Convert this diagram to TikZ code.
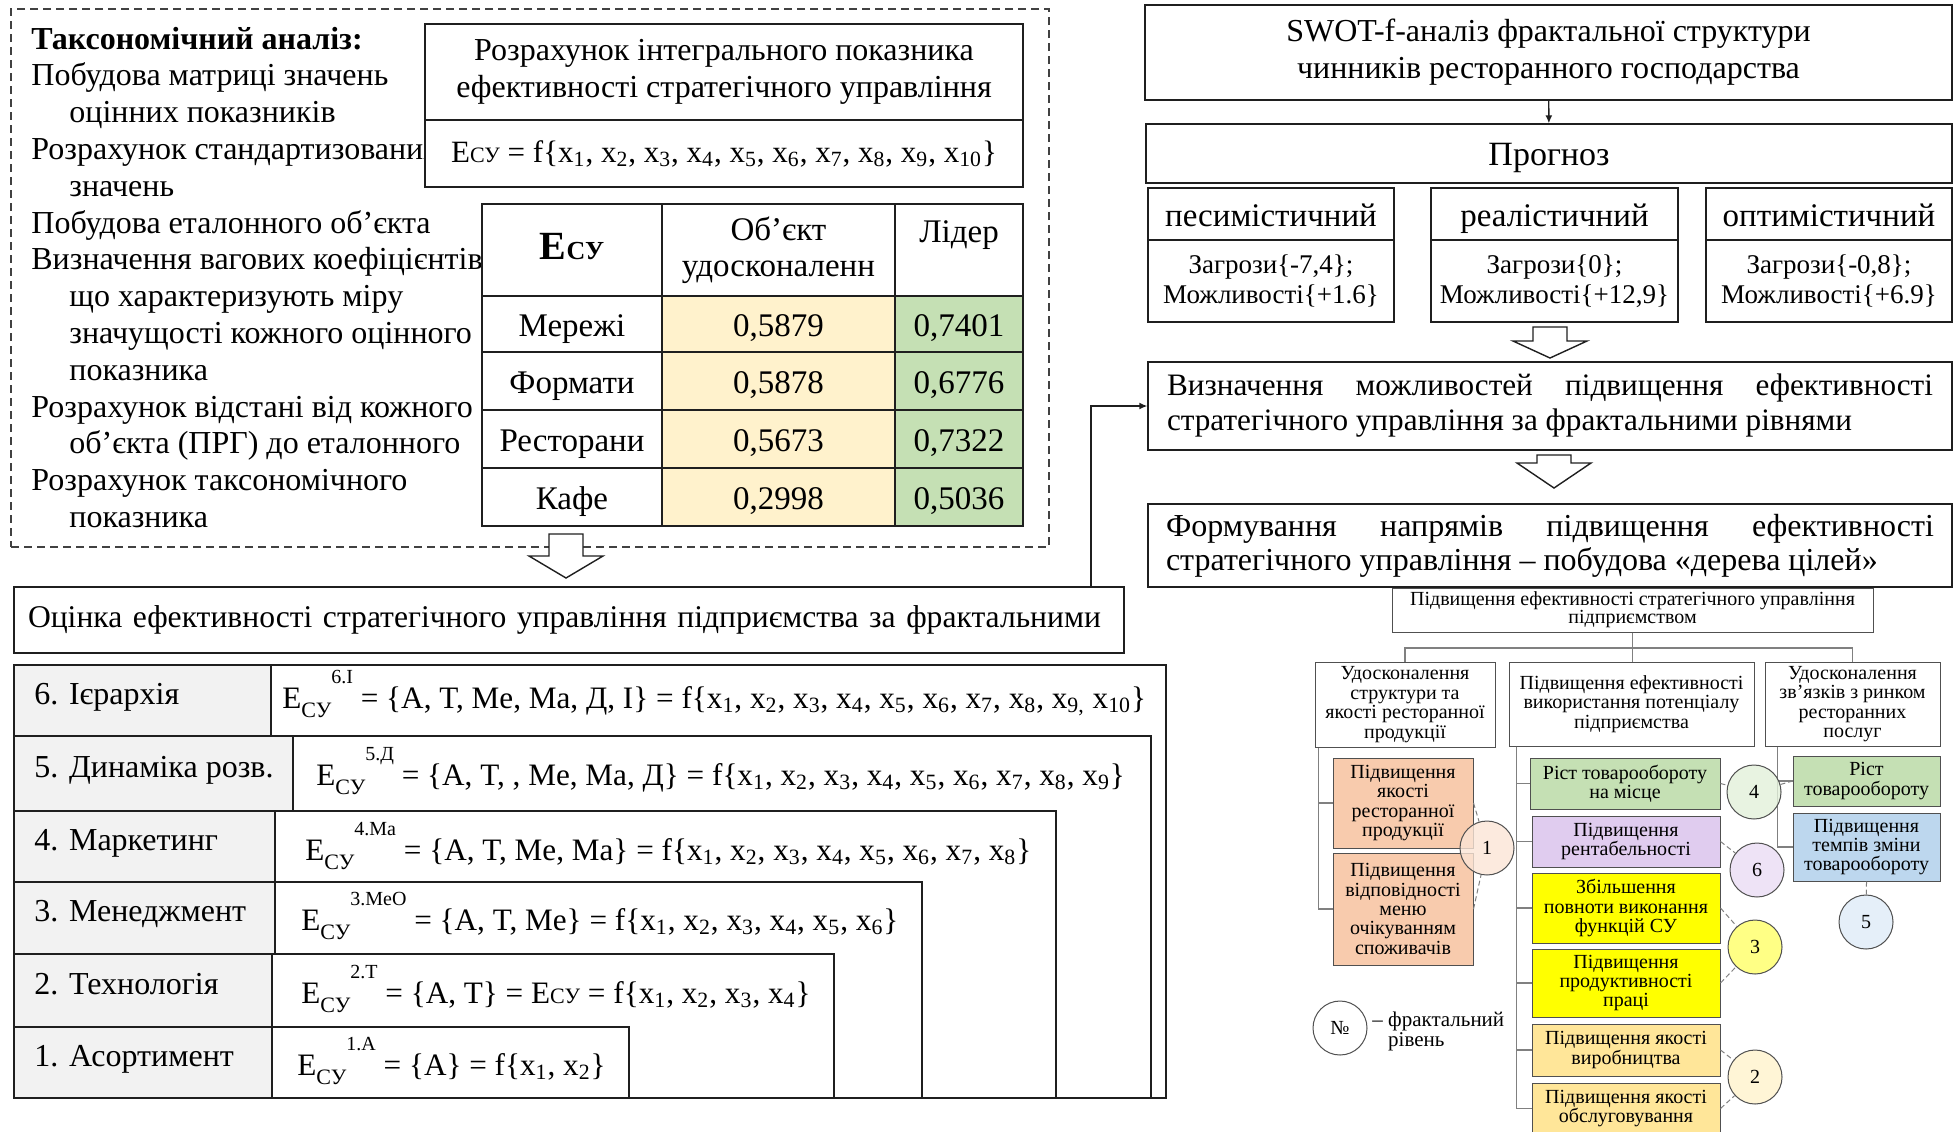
\documentclass[tikz,border=0pt]{standalone}
\usepackage{fontspec}
\setmainfont{Liberation Serif}
\usetikzlibrary{arrows.meta,positioning,fit}
\definecolor{ink}{HTML}{1F1F1F}
\definecolor{treeline}{HTML}{808080}
\definecolor{treeink}{HTML}{505050}
\definecolor{boxgray}{HTML}{F2F2F2}
\definecolor{objfill}{HTML}{FFF2CC}
\definecolor{leadfill}{HTML}{C5E0B4}
\definecolor{orangefill}{HTML}{F8CBAD}
\definecolor{greenfill}{HTML}{C5E0B4}
\definecolor{lilacfill}{HTML}{E0CCEF}
\definecolor{yellowfill}{HTML}{FFFF00}
\definecolor{goldfill}{HTML}{FFE699}
\definecolor{bluefill}{HTML}{BDD7EE}
\definecolor{lvorange}{HTML}{FBE5D6}
\definecolor{lvgreen}{HTML}{E2F0D9}
\definecolor{lvlilac}{HTML}{EADCF4}
\definecolor{lvyellow}{HTML}{FFFF66}
\definecolor{lvgold}{HTML}{FFF2CC}
\definecolor{lvblue}{HTML}{DEEBF7}
\tikzset{span/.style n args={4}{at={({(#1+#3)/2},{(#2+#4)/2})},minimum width={(#3-#1)*0.5pt},minimum height={(#4-#2)*0.5pt}},
 box/.style={draw=ink,line width=0.7pt,fill=white,inner sep=0pt,align=center,font=\fontsize{16}{18.5}\selectfont},
 oneline/.style={text height=15pt,text depth=3pt},
 tcell/.style={box,font=\fontsize{16.5}{18}\selectfont},
 labcell/.style={box,fill=boxgray},
 listline/.style={anchor=west,inner sep=0pt,oneline,font=\fontsize{16}{18}\selectfont},
 dashbox/.style={draw=ink!85,dash pattern=on 4pt off 2.5pt,line width=0.6pt,inner sep=0pt},
 hollow/.style={draw=ink,line width=0.7pt,fill=white,line join=miter},
 arr/.style={-{Latex[length=4pt,width=3.5pt]},line width=0.7pt,draw=ink},
 tbox/.style={draw=treeink,line width=0.5pt,fill=white,inner sep=0pt,align=center,font=\fontsize{10}{9.7}\selectfont},
 leaf/.style={tbox,draw=treeink},
 tline/.style={draw=treeline,line width=0.6pt},
 link/.style={draw=treeline,line width=0.5pt,dash pattern=on 2.5pt off 1.5pt},
 lvl/.style={circle,draw=treeink,line width=0.5pt,minimum size=27pt,inner sep=0pt,fill opacity=0.8,text opacity=1,font=\fontsize{10}{10}\selectfont}}
\newcommand{\xx}[1]{x\textsubscript{#1}}
\newcommand{\Esm}{E{\fontsize{11}{11}\selectfont СУ}}
\newcommand{\Esb}{E\raisebox{-0.3em}{\fontsize{11}{11}\selectfont СУ}}
\newcommand{\Esu}[1]{\Esb\raisebox{0.8em}{\fontsize{10}{10}\selectfont #1}}
\newcommand{\blockdown}[4]{\draw[hollow] (#1-17,#2) -- (#1+17,#2) -- (#1+17,#3) -- (#1+37,#3) -- (#1,#4) -- (#1-37,#3) -- (#1-17,#3) -- cycle;}
\begin{document}
\begin{tikzpicture}[x=0.5pt,y=-0.5pt]
\useasboundingbox (0,0) rectangle (1958,1131);
% taxonomy block
\node[dashbox,fit={(11,9)(1049,547)}] (taxo) {};
\foreach \i/\dx/\t in {0/0/{\bfseries Таксономічний аналіз:},1/0/Побудова матриці значень,2/1/оцінних показників,
 3/0/Розрахунок стандартизованих,4/1/значень,5/0/Побудова еталонного об’єкта,6/0/Визначення вагових коефіцієнтів,
 7/1/що характеризують міру,8/1/значущості кожного оцінного,9/1/показника,10/0/Розрахунок відстані від кожного,
 11/1/об’єкта (ПРГ) до еталонного,12/0/Розрахунок таксономічного,13/1/показника}
 \node[listline] (tx\i) at (31+38*\dx,37+36.8*\i) {\t};
\node[box,font=\fontsize{16}{18.5}\selectfont,span={425}{24}{1023}{120}] (calc) {Розрахунок інтегрального показника\\ефективності стратегічного управління};
\node[box,font=\fontsize{15.5}{18}\selectfont,span={425}{120}{1023}{187}] (calcf) {\Esm{} = f\{\xx1, \xx2, \xx3, \xx4, \xx5, \xx6, \xx7, \xx8, \xx9, \xx{10}\}};
% table
\node[tcell,span={482}{204}{662}{296}] (hE) {\raisebox{4pt}{\bfseries\fontsize{20}{20}\selectfont E\fontsize{13}{13}\selectfont СУ}};
\node[tcell,span={662}{204}{895}{296}] (hO) {Об’єкт\\удосконаленн};
\node[tcell,span={895}{204}{1023}{296}] (hL) {Лідер\\\mbox{}};
\foreach \r/\yt/\yb/\nm/\ov/\lv in {1/296/352/Мережі/{0,5879}/{0,7401},2/352/410/Формати/{0,5878}/{0,6776},
 3/410/468/Ресторани/{0,5673}/{0,7322},4/468/526/Кафе/{0,2998}/{0,5036}}{
 \node[tcell,oneline,span={482}{\yt}{662}{\yb}] (rn\r) {\nm};
 \node[tcell,oneline,fill=objfill,span={662}{\yt}{895}{\yb}] (ro\r) {\ov};
 \node[tcell,oneline,fill=leadfill,span={895}{\yt}{1023}{\yb}] (rl\r) {\lv};
}
\blockdown{566}{534}{556}{578}
\node[box,font=\fontsize{15.8}{18}\selectfont,span={14}{587}{1124}{653},text width=541pt,align=left] (ocinka) {Оцінка ефективності стратегічного управління підприємства за фрактальними};
% fractal levels
\foreach \i/\yt/\yb/\lx/\rx/\ybase/\fx/\lab/\eq in {
 6/665/736/271/1166/708/282/{6. Ієрархія}/{\Esu{6.I} = \{A, T, Me, Ma, Д, I\} = f\{\xx1, \xx2, \xx3, \xx4, \xx5, \xx6, \xx7, \xx8, \xx{9,} \xx{10}\}},
 5/736/811/293/1151/785/316/{5. Динаміка розв.}/{\Esu{5.Д} = \{A, T, , Me, Ma, Д\} = f\{\xx1, \xx2, \xx3, \xx4, \xx5, \xx6, \xx7, \xx8, \xx9\}},
 4/811/882/275/1056/860/305/{4. Маркетинг}/{\Esu{4.Ma} = \{A, T, Me, Ma\} = f\{\xx1, \xx2, \xx3, \xx4, \xx5, \xx6, \xx7, \xx8\}},
 3/882/954/275/922/930/301/{3. Менеджмент}/{\Esu{3.MeO} = \{A, T, Me\} = f\{\xx1, \xx2, \xx3, \xx4, \xx5, \xx6\}},
 2/954/1027/272/834/1003/301/{2. Технологія}/{\Esu{2.T} = \{A, T\} = \Esm{} = f\{\xx1, \xx2, \xx3, \xx4\}},
 1/1027/1098/272/629/1075/297/{1. Асортимент}/{\Esu{1.A} = \{A\} = f\{\xx1, \xx2\}}}{
 \node[box,span={\lx}{\yt}{\rx}{1098}] (fb\i) {};
 \node[labcell,span={14}{\yt}{\lx}{\yb}] (lc\i) {};
 \node[listline] (ln\i) at (34,{(\yt+\yb)/2-8.5}) {\lab};
 \node[anchor=base west,inner sep=0pt,font=\fontsize{15.6}{18}\selectfont] (eq\i) at (\fx,\ybase) {\eq};
}
% SWOT side
\node[box,span={1145}{5}{1952}{100}] (swot) {SWOT-f-аналіз фрактальної структури\\чинників ресторанного господарства};
\node[box,oneline,font=\fontsize{17}{19}\selectfont,span={1146}{124}{1952}{183}] (progn) {Прогноз};
\draw[arr] (swot) -- (progn);
\foreach \n/\xa/\xb/\hd/\bd in {pes/1148/1394/песимістичний/{Загрози\{-7,4\};\\Можливості\{+1.6\}},
 real/1431/1678/реалістичний/{Загрози\{0\};\\Можливості\{+12,9\}},
 opt/1706/1952/оптимістичний/{Загрози\{-0,8\};\\Можливості\{+6.9\}}}{
 \node[box,oneline,font=\fontsize{16.5}{18}\selectfont,span={\xa}{188}{\xb}{240}] (h\n) {\hd};
 \node[box,font=\fontsize{13.5}{15}\selectfont,span={\xa}{240}{\xb}{322}] (b\n) {\bd};
}
\blockdown{1550}{327}{341}{358}
\node[box,span={1148}{362}{1952}{450},text width=383pt,align=justify,font=\fontsize{15.6}{17.5}\selectfont] (vyzn) {Визначення можливостей підвищення ефективності\linebreak стратегічного управління за фрактальними рівнями};
\blockdown{1554}{455}{463}{488}
\node[box,span={1148}{504}{1952}{587},text width=384pt,align=justify,font=\fontsize{16}{17}\selectfont] (form) {Формування напрямів підвищення ефективності\linebreak стратегічного управління – побудова «дерева цілей»};
\coordinate (knee) at (1091,406);
\draw[arr] (ocinka.north -| knee) |- (vyzn.west);
% goal tree
\node[tbox,font=\fontsize{10}{9}\selectfont,span={1392}{588}{1873}{632}] (goal) {Підвищення ефективності стратегічного управління\\підприємством};
\node[tbox,span={1315}{662}{1495}{747}] (dirA) {Удосконалення\\структури та\\якості ресторанної\\продукції};
\node[tbox,span={1509}{662}{1754}{746}] (dirB) {Підвищення ефективності\\використання потенціалу\\підприємства};
\node[tbox,span={1765}{662}{1940}{746}] (dirC) {Удосконалення\\зв’язків з ринком\\ресторанних\\послуг};
\coordinate (bus) at (0,648);
\draw[tline] (goal.south) -- (goal.south |- dirB.north);
\draw[tline] (dirA.north) |- (bus -| dirC.north) -- (dirC.north);
\node[leaf,fill=orangefill,span={1333}{758}{1473}{848}] (q1) {Підвищення\\якості\\ресторанної\\продукції};
\node[leaf,fill=orangefill,span={1333}{853}{1473}{965}] (q2) {Підвищення\\відповідності\\меню\\очікуванням\\споживачів};
\node[leaf,fill=greenfill,span={1530}{758}{1720}{809}] (b1) {Ріст товарообороту\\на місце};
\node[leaf,fill=lilacfill,span={1532}{816}{1720}{867}] (b2) {Підвищення\\рентабельності};
\node[leaf,fill=yellowfill,span={1532}{873}{1720}{943}] (b3) {Збільшення\\повноти виконання\\функцій СУ};
\node[leaf,fill=yellowfill,span={1532}{949}{1720}{1017}] (b4) {Підвищення\\продуктивності\\праці};
\node[leaf,fill=goldfill,span={1532}{1024}{1720}{1076}] (b5) {Підвищення якості\\виробництва};
\node[leaf,fill=goldfill,span={1532}{1083}{1720}{1134}] (b6) {Підвищення якості\\обслуговування};
\node[leaf,fill=greenfill,span={1793}{756}{1940}{806}] (c1) {Ріст\\товарообороту};
\node[leaf,fill=bluefill,span={1793}{813}{1940}{881}] (c2) {Підвищення\\темпів зміни\\товарообороту};
\foreach \k in {1,2} \draw[tline] ([xshift=2pt]dirA.south west) |- (q\k.west);
\foreach \k in {1,...,6} \draw[tline] ([xshift=4pt]dirB.south west) |- (b\k.west);
\foreach \k in {1,2} \draw[tline] ([xshift=6.5pt]dirC.south west) |- (c\k.west);
% fractal level marks
\node[lvl,fill=lvorange] (lv1) at (1487,848) {1};
\node[lvl,fill=lvgreen] (lv4) at (1754,792) {4};
\node[lvl,fill=lvlilac] (lv6) at (1757,870) {6};
\node[lvl,fill=lvyellow] (lv3) at (1755,947) {3};
\node[lvl,fill=lvgold] (lv2) at (1755,1077) {2};
\node[lvl,fill=lvblue] (lv5) at (1866,922) {5};
\node[lvl,fill=white] (lvno) at (1340,1028) {№};
\node[anchor=west,inner sep=0pt,align=left,font=\fontsize{10.5}{10}\selectfont] (lvtxt) at (1372,1031) {– фрактальний\\\phantom{– }рівень};
\draw[link] (q1.east) -- (lv1);
\draw[link] (q2.east) -- (lv1);
\draw[link] (b1.east) -- (lv4);
\draw[link] (lv4) -- (c1.west);
\draw[link] (b2.east) -- (lv6);
\draw[link] (b3.east) -- (lv3);
\draw[link] (b4.east) -- (lv3);
\draw[link] (b5.east) -- (lv2);
\draw[link] (b6.east) -- (lv2);
\draw[link] (c2.south) -- (lv5);
\end{tikzpicture}
\end{document}
